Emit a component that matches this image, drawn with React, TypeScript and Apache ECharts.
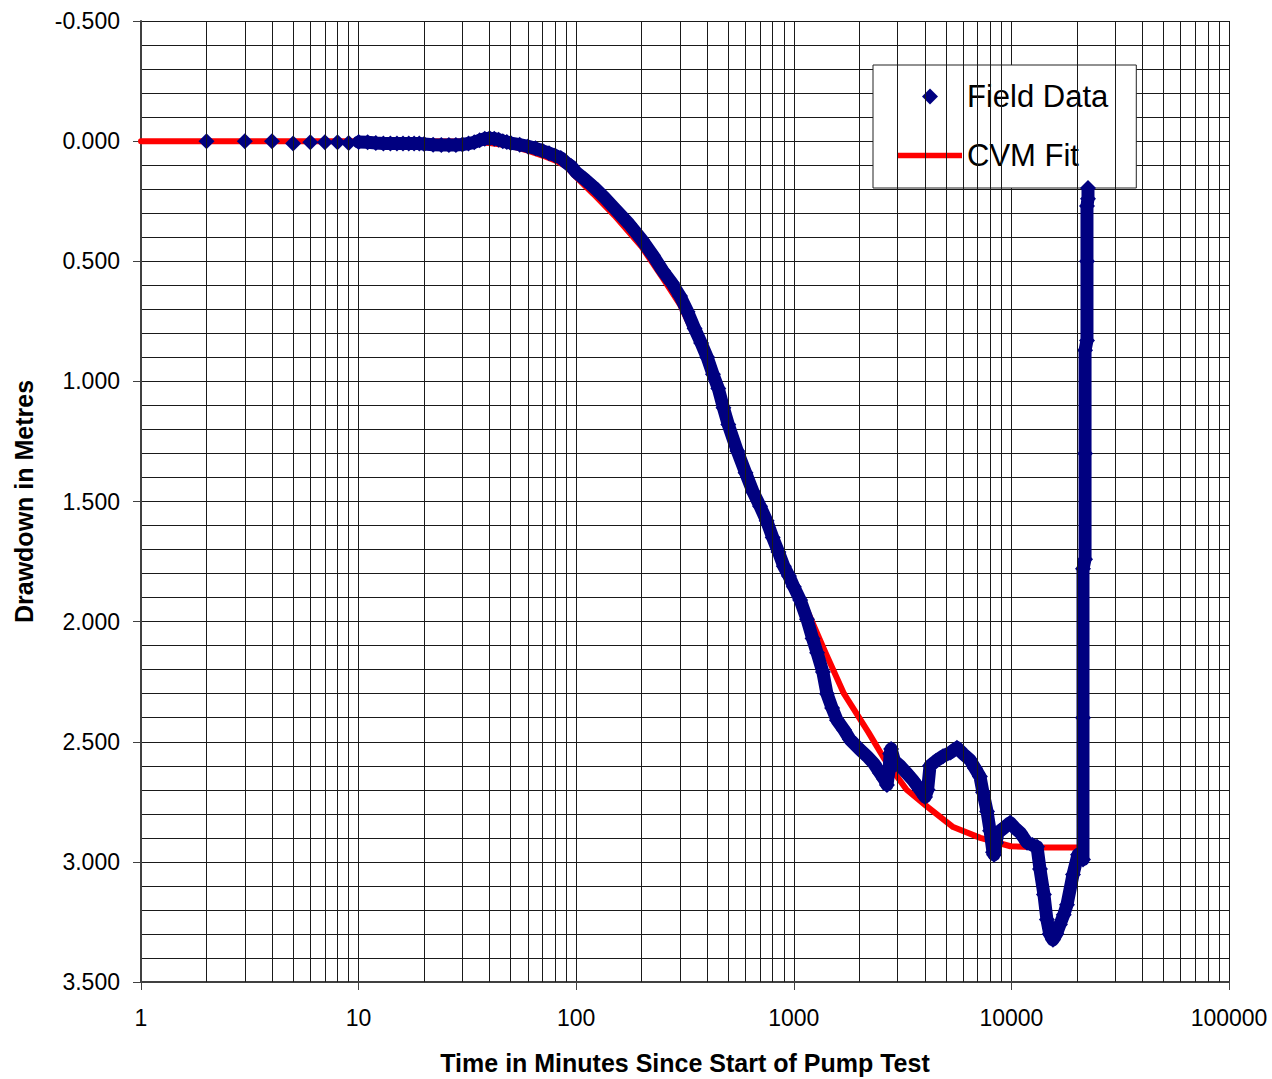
import React, { useEffect, useRef } from "react";
import * as echarts from "echarts";

// Field data: time (minutes) and drawdown (m)
const fieldTime = [
  2, 3, 4, 5, 6, 7, 8, 9, 10,
  11, 12, 13, 14, 15, 16, 17, 18, 19, 20,
  22, 24, 26, 28, 30, 32, 34, 36, 38, 40,
  42, 44, 46, 48, 50, 55, 60, 65, 70, 75,
  80, 85, 90, 95, 100, 110, 120, 135, 150, 175,
  200, 225, 250, 275, 300, 325, 350, 375, 400, 425,
  450, 475, 500, 550, 600, 650, 700, 750, 800, 850,
  900, 950, 1000, 1070, 1150, 1220, 1280, 1360, 1420, 1500,
  1580, 1700, 1810, 2000, 2170, 2330, 2490, 2600, 2680, 2740,
  2770, 2800, 2900, 3076, 3300, 3530, 3800, 4010, 4120, 4226,
  4500, 4850, 5250, 5620, 6000, 6450, 6800, 7170, 7400, 7730,
  7980, 8230, 8320, 8500, 8670, 9200, 9860, 10400, 10960, 11800,
  12500, 13120, 13530, 14110, 14560, 15000, 15520, 16100, 16710, 17400,
  18010, 19190, 20230, 20900, 21330, 21330, 21330, 21800, 21800, 21800,
  22250, 22250, 22250, 22490, 22490,
];
const fieldDrawdown = [
  0, 0, 0, 0.01, 0.005, 0.005, 0.005, 0.008, 0.004,
  0.005, 0.008, 0.01, 0.01, 0.01, 0.01, 0.01, 0.01, 0.01, 0.012,
  0.015, 0.016, 0.016, 0.016, 0.014, 0.01, 0.005, -0.004, -0.01, -0.012,
  -0.01, -0.006, 0, 0.004, 0.008, 0.015, 0.022, 0.03, 0.04, 0.05,
  0.06, 0.07, 0.09, 0.105, 0.13, 0.16, 0.19, 0.235, 0.28, 0.345,
  0.41, 0.475, 0.54, 0.59, 0.645, 0.71, 0.78, 0.84, 0.9, 0.97,
  1.03, 1.11, 1.18, 1.29, 1.38, 1.46, 1.52, 1.58, 1.65, 1.71,
  1.77, 1.81, 1.855, 1.91, 1.99, 2.07, 2.13, 2.21, 2.3, 2.36,
  2.41, 2.45, 2.49, 2.53, 2.56, 2.59, 2.63, 2.655, 2.68, 2.62,
  2.55, 2.53, 2.58, 2.6, 2.63, 2.66, 2.7, 2.73, 2.7, 2.6,
  2.58, 2.56, 2.545, 2.525, 2.55, 2.575, 2.61, 2.645, 2.71, 2.79,
  2.87, 2.96, 2.97, 2.92, 2.878, 2.86, 2.837, 2.86, 2.878, 2.92,
  2.93, 2.937, 3.03, 3.136, 3.24, 3.3, 3.324, 3.3, 3.261, 3.22,
  3.178, 3.053, 2.97, 2.96, 2.99, 2.4, 1.78, 1.74, 1.3, 0.87,
  0.83, 0.5, 0.27, 0.24, 0.195,
];

// CVM fit curve
const fitTime = [
  1, 10, 20, 30, 40, 50, 60, 70, 80, 90, 100, 120, 150, 200, 250, 300, 400, 500,
  600, 700, 800, 900, 1000, 1200, 1400, 1700, 2200, 2600, 3300, 4100, 5400, 7200,
  9900, 14000, 21000,
];
const fitDrawdown = [
  0, 0, 0, 0.002, 0.008, 0.02, 0.04, 0.06, 0.08, 0.105, 0.15, 0.22, 0.31, 0.44, 0.57, 0.68, 0.92, 1.18,
  1.37, 1.52, 1.64, 1.74, 1.83, 1.99, 2.13, 2.3, 2.46, 2.57, 2.7, 2.77, 2.855, 2.9,
  2.935, 2.94, 2.94,
];

// Axis ticks
const timeMin = 1;
const timeMax = 100000;
const drawdownMin = -0.5;
const drawdownMax = 3.5;
const drawdownStep = 0.5;
const minorTimeGrid = [
  2, 3, 4, 5, 6, 7, 8, 9,
  20, 30, 40, 50, 60, 70, 80, 90,
  200, 300, 400, 500, 600, 700, 800, 900,
  2000, 3000, 4000, 5000, 6000, 7000, 8000, 9000,
  20000, 30000, 40000, 50000, 60000, 70000, 80000, 90000,
];

const FONT = '"Liberation Sans", Arial, Helvetica, sans-serif';
const GRID_COLOR = "#1a1a1a";
const AXIS_COLOR = "#404040";
const NAVY = "#000080";
const RED = "#ff0000";

export default function App() {
  const ref = useRef<HTMLDivElement>(null);

  useEffect(() => {
    document.body.style.margin = "0";
    const chart = echarts.init(ref.current!, null, { renderer: "svg" });
    const fieldPoints = fieldTime.map((t, i) => [t, fieldDrawdown[i]]);
    const bandPoints = fieldPoints.filter((p) => p[0] >= 10);
    const fitPoints = fitTime.map((t, i) => [t, fitDrawdown[i]]);

    chart.setOption({
      animation: false,
      grid: { left: 141, right: 43, top: 21, bottom: 97, outerBoundsMode: "none" },
      legend: {
        orient: "vertical",
        left: 873,
        top: 65,
        padding: [16, 28, 17, 25],
        itemWidth: 64,
        itemHeight: 16,
        itemGap: 28,
        symbolKeepAspect: true,
        backgroundColor: "#ffffff",
        borderColor: "#222222",
        borderWidth: 1,
        borderRadius: 0,
        selectedMode: false,
        textStyle: { fontSize: 31, fontFamily: FONT, color: "#000", lineHeight: 30 },
        data: [
          {
            name: "Field Data",
            icon: "path://M0,-8L8,0L0,8L-8,0Z",
            itemStyle: { color: NAVY, opacity: 1 },
          },
          {
            name: "CVM Fit",
            icon: "path://M0,0L64,0L64,5.5L0,5.5Z",
            itemStyle: { color: RED },
          },
        ],
      },
      xAxis: {
        type: "log",
        logBase: 10,
        min: timeMin,
        max: timeMax,
        axisLine: { show: true, onZero: false, lineStyle: { color: AXIS_COLOR, width: 2 } },
        axisTick: { show: true, inside: false, length: 8, lineStyle: { color: AXIS_COLOR, width: 1 } },
        axisLabel: {
          margin: 24,
          fontSize: 23,
          color: "#000",
          fontFamily: FONT,
          formatter: (v: number) => String(Math.round(v)),
        },
        splitLine: { show: true, lineStyle: { color: GRID_COLOR, width: 1 } },
        minorTick: { show: false },
        name: "Time in Minutes Since Start of Pump Test",
        nameLocation: "middle",
        nameGap: 68,
        nameTextStyle: { fontSize: 25, fontWeight: "bold", color: "#000", fontFamily: FONT },
      },
      yAxis: {
        type: "value",
        inverse: true,
        min: drawdownMin,
        max: drawdownMax,
        interval: drawdownStep,
        axisLine: { show: true, onZero: false, lineStyle: { color: AXIS_COLOR, width: 2 } },
        axisTick: { show: true, inside: false, length: 8, lineStyle: { color: AXIS_COLOR, width: 1 } },
        axisLabel: {
          margin: 21,
          fontSize: 23,
          color: "#000",
          fontFamily: FONT,
          formatter: (v: number) => v.toFixed(3),
        },
        splitLine: { show: true, lineStyle: { color: GRID_COLOR, width: 1 } },
        minorTick: { show: false, splitNumber: 5 },
        minorSplitLine: { show: true, lineStyle: { color: GRID_COLOR, width: 1 } },
        name: "Drawdown in Metres",
        nameLocation: "middle",
        nameGap: 105,
        nameTextStyle: { fontSize: 25, fontWeight: "bold", color: "#000", fontFamily: FONT },
      },
      series: [
        {
          name: "grid-minor",
          type: "line",
          data: [[timeMin, drawdownMin]],
          symbol: "none",
          lineStyle: { opacity: 0 },
          silent: true,
          z: 1,
          markLine: {
            silent: true,
            symbol: ["none", "none"],
            label: { show: false },
            emphasis: { disabled: true },
            animation: false,
            lineStyle: { color: GRID_COLOR, width: 1, type: "solid" },
            data: minorTimeGrid.map((t) => ({ xAxis: t })),
          },
        },
        {
          name: "CVM Fit",
          type: "line",
          data: fitPoints,
          symbol: "none",
          showSymbol: false,
          lineStyle: { color: RED, width: 6, cap: "round", join: "round" },
          itemStyle: { color: RED },
          z: 2,
          silent: true,
        },
        {
          name: "field-band",
          type: "line",
          data: bandPoints,
          symbol: "none",
          showSymbol: false,
          lineStyle: { color: NAVY, width: 13, cap: "round", join: "round" },
          z: 3,
          silent: true,
        },
        {
          name: "Field Data",
          type: "scatter",
          data: fieldPoints,
          symbol: "diamond",
          symbolSize: 16,
          itemStyle: { color: NAVY, opacity: 1 },
          z: 4,
          silent: true,
        },
      ],
    });

    return () => chart.dispose();
  }, []);

  return <div ref={ref} style={{ width: 1272, height: 1079 }} />;
}
